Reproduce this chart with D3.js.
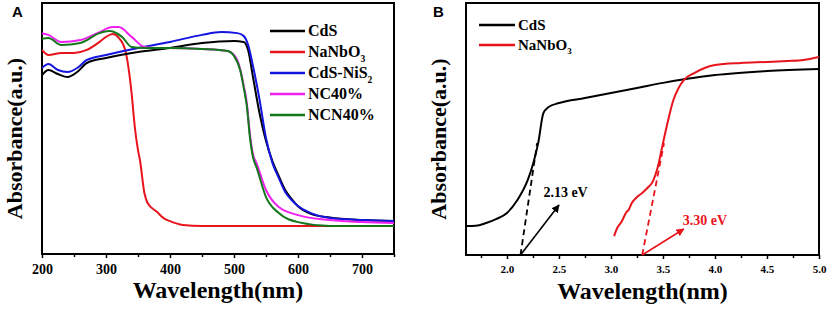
<!DOCTYPE html>
<html>
<head>
<meta charset="utf-8">
<script src="https://cdn.jsdelivr.net/npm/d3@7"></script>
<style>
  body { margin: 0; background: #fff; }
  text { font-family: "Liberation Serif", "Times New Roman", serif; font-weight: bold; }
  text.letter { font-family: "Liberation Sans", Arial, sans-serif; }
</style>
</head>
<body>
<svg id="chart" width="829" height="309"></svg>
<script>
// PANEL A DATA  (wavelength nm, absorbance a.u.)
const cdsA = [[200,.713],[210,.733],[225,.717],[240,.705],[255,.725],[270,.761],[300,.781],[350,.805],[400,.821],[450,.841],[500,.849],[515,.845],[522,.813],[530,.70],[540,.56],[550,.45],[560,.37],[570,.31],[580,.255],[590,.22],[600,.19],[620,.16],[650,.145],[700,.135],[750,.131]]
const nanbo3A = [[200,.813],[210,.793],[230,.801],[250,.801],[270,.813],[290,.845],[300,.865],[310,.876],[320,.861],[330,.813],[340,.641],[345,.506],[350,.414],[353,.375],[360,.243],[365,.203],[380,.167],[390,.143],[400,.131],[420,.116],[450,.112],[500,.112],[600,.112],[700,.112],[750,.112]]
const cdsNiS2A = [[200,.741],[210,.757],[225,.733],[240,.725],[255,.741],[270,.773],[300,.793],[350,.821],[400,.845],[450,.873],[480,.884],[505,.880],[515,.869],[522,.833],[530,.745],[540,.614],[550,.462],[560,.363],[570,.303],[580,.247],[590,.215],[600,.191],[620,.163],[650,.143],[700,.135],[750,.131]]
const nc40A = [[200,.880],[210,.873],[230,.845],[260,.853],[290,.884],[310,.904],[320,.904],[340,.865],[360,.825],[380,.821],[400,.821],[450,.817],[490,.809],[500,.793],[505,.773],[510,.733],[515,.673],[520,.602],[525,.474],[530,.394],[535,.363],[550,.255],[570,.187],[600,.155],[650,.135],[700,.127],[750,.124]]
const ncn40A = [[200,.857],[210,.861],[230,.833],[260,.841],[290,.880],[305,.888],[325,.865],[340,.825],[360,.821],[400,.821],[450,.817],[490,.809],[500,.789],[510,.729],[515,.665],[520,.590],[525,.462],[530,.382],[535,.347],[550,.227],[570,.163],[600,.127],[650,.112],[750,.112]]

const seriesA = [
  {name: "CdS", color: "#000000", data: cdsA},
  {name: "NaNbO", sub: "3", color: "#e8141c", data: nanbo3A},
  {name: "CdS-NiS", sub: "2", color: "#1515e0", data: cdsNiS2A},
  {name: "NC40%", color: "#f020f0", data: nc40A},
  {name: "NCN40%", color: "#12781a", data: ncn40A}
]
const drawOrderA = [1, 0, 2, 3, 4]

const ticksA = [200, 300, 400, 500, 600, 700]
const minorTicksA = [250, 350, 450, 550, 650, 750]

// PANEL B DATA  (energy, absorbance a.u.)
const cdsB = [[1.6,.115],[1.7,.116],[1.8,.127],[1.9,.143],[2.0,.167],[2.1,.218],[2.2,.298],[2.25,.36],[2.3,.444],[2.35,.563],[2.4,.587],[2.5,.603],[2.75,.623],[3.0,.643],[3.25,.663],[3.5,.683],[3.75,.700],[4.0,.714],[4.5,.730],[5.0,.738]]
const nanbo3B = [[3.03,.075],[3.06,.107],[3.1,.131],[3.15,.171],[3.17,.179],[3.2,.206],[3.25,.230],[3.3,.246],[3.35,.266],[3.4,.290],[3.45,.349],[3.5,.444],[3.55,.536],[3.6,.615],[3.65,.663],[3.7,.694],[3.8,.722],[3.9,.742],[4.0,.754],[4.25,.762],[4.5,.766],[4.7,.770],[4.85,.774],[5.0,.786]]
const seriesB = [
  {name: "CdS", color: "#000000", data: cdsB},
  {name: "NaNbO", sub: "3", color: "#e8141c", data: nanbo3B}
]
const tangentsB = [
  {color: "#000000", data: [[2.13, 0], [2.29, .444]]},
  {color: "#e8141c", data: [[3.30, 0], [3.51, .444]]}
]
const arrowsB = [
  {color: "#000000", from: [2.13, 0], to: [2.5, .198], label: "2.13 eV", at: [2.35, .23]},
  {color: "#e8141c", from: [3.30, 0], to: [3.70, .103], label: "3.30 eV", at: [3.69, .12]}
]
const ticksB = [2.0, 2.5, 3.0, 3.5, 4.0, 4.5, 5.0]
const minorTicksB = [1.75, 2.25, 2.75, 3.25, 3.75, 4.25, 4.75]

let svg = d3.select('#chart')

let defs = svg.append('defs')
arrowsB.forEach(function(a, i) {
  defs.append('marker')
    .attr('id', 'arrow' + i)
    .attr('viewBox', '0 0 10 10')
    .attr('refX', 9).attr('refY', 5)
    .attr('markerWidth', 5).attr('markerHeight', 5)
    .attr('orient', 'auto')
    .append('path')
    .attr('d', 'M0,0 L10,5 L0,10 z')
    .attr('fill', a.color)
})

function drawPanel(opts) {
  let g = svg.append('g').attr('transform', `translate(${opts.left},${opts.top})`)
  let w = opts.width, h = opts.height

  let x = d3.scaleLinear().domain(opts.xDomain).range([0, w])
  let y = d3.scaleLinear().domain([0, 1]).range([h, 0])

  // MINOR TICKS
  g.append('g')
    .attr('transform', `translate(0,${h})`)
    .call(d3.axisBottom(x).tickValues(opts.minor).tickSize(3).tickFormat(''))
    .call(s => s.select('.domain').remove())
    .selectAll('line').attr('stroke-width', 1.5)

  // MAJOR TICKS
  let ax = g.append('g')
    .attr('transform', `translate(0,${h})`)
    .call(d3.axisBottom(x).tickValues(opts.ticks).tickSize(4).tickPadding(6).tickFormat(opts.fmt))
  ax.select('.domain').remove()
  ax.selectAll('line').attr('stroke-width', 1.5)
  ax.selectAll('text')
    .attr('font-size', opts.tickSize)
    .attr('fill', '#000')

  // FRAME
  g.append('rect')
    .attr('width', w).attr('height', h)
    .attr('fill', 'none').attr('stroke', '#000').attr('stroke-width', 2)

  let clip = 'clip' + opts.id
  g.append('clipPath').attr('id', clip).append('rect').attr('width', w).attr('height', h)

  let line = d3.line().x(d => x(d[0])).y(d => y(d[1])).curve(d3.curveMonotoneX)
  let plot = g.append('g').attr('clip-path', `url(#${clip})`)

  opts.order.forEach(function(i) {
    let s = opts.series[i]
    plot.append('path')
      .datum(s.data)
      .attr('d', line)
      .attr('fill', 'none')
      .attr('stroke', s.color)
      .attr('stroke-width', 2)
  })

  // LEGEND
  opts.series.forEach(function(s, i) {
    let ly = opts.legend.y + i * opts.legend.step
    g.append('line')
      .attr('x1', opts.legend.x).attr('x2', opts.legend.x + opts.legend.len)
      .attr('y1', ly).attr('y2', ly)
      .attr('stroke', s.color).attr('stroke-width', 2.5)
    let t = g.append('text')
      .attr('x', opts.legend.x + opts.legend.len + 3)
      .attr('y', ly + opts.legend.size * 0.33)
      .attr('font-size', opts.legend.size)
      .attr('fill', '#000')
      .text(s.name)
    if (s.sub) {
      t.append('tspan').attr('dy', opts.legend.size * 0.3).attr('font-size', opts.legend.size * 0.6).text(s.sub)
    }
  })

  // AXIS TITLES
  g.append('text')
    .attr('x', w / 2).attr('y', h + 44)
    .attr('text-anchor', 'middle')
    .attr('font-size', 24)
    .text('Wavelength(nm)')
  g.append('text')
    .attr('transform', `translate(${opts.ylabX},${h / 2 + 10}) rotate(-90)`)
    .attr('text-anchor', 'middle')
    .attr('font-size', 22)
    .text('Absorbance(a.u.)')

  // PANEL LETTER
  g.append('text')
    .attr('class', 'letter')
    .attr('x', opts.letterX).attr('y', 14)
    .attr('font-size', 15)
    .text(opts.letter)

  return {g: g, x: x, y: y, plot: plot}
}

drawPanel({
  id: 'A', letter: 'A', letterX: -30, left: 42, top: 3, width: 352, height: 251,
  xDomain: [200, 750], ticks: ticksA, minor: minorTicksA, fmt: d3.format('d'), tickSize: 14,
  series: seriesA, order: drawOrderA, ylabX: -20,
  legend: {x: 228, y: 28, step: 21, len: 35, size: 16}
})

let pB = drawPanel({
  id: 'B', letter: 'B', letterX: -33, left: 466, top: 3, width: 353, height: 252,
  xDomain: [1.606, 5.0], ticks: ticksB, minor: minorTicksB, fmt: d3.format('.1f'), tickSize: 11,
  series: seriesB, order: [0, 1], ylabX: -20,
  legend: {x: 13, y: 22, step: 20, len: 36, size: 15}
})

// TANGENT LINES
let tl = d3.line().x(d => pB.x(d[0])).y(d => pB.y(d[1]))
tangentsB.forEach(function(t) {
  pB.g.append('path')
    .datum(t.data)
    .attr('d', tl)
    .attr('fill', 'none')
    .attr('stroke', t.color)
    .attr('stroke-width', 1.8)
    .attr('stroke-dasharray', '6,4')
})

// ARROWS AND BAND GAP LABELS
arrowsB.forEach(function(a, i) {
  pB.g.append('line')
    .attr('x1', pB.x(a.from[0])).attr('y1', pB.y(a.from[1]))
    .attr('x2', pB.x(a.to[0])).attr('y2', pB.y(a.to[1]))
    .attr('stroke', a.color).attr('stroke-width', 1.6)
    .attr('marker-end', `url(#arrow${i})`)
  pB.g.append('text')
    .attr('x', pB.x(a.at[0])).attr('y', pB.y(a.at[1]))
    .attr('font-size', 14)
    .attr('fill', a.color)
    .text(a.label)
})
</script>
</body>
</html>
